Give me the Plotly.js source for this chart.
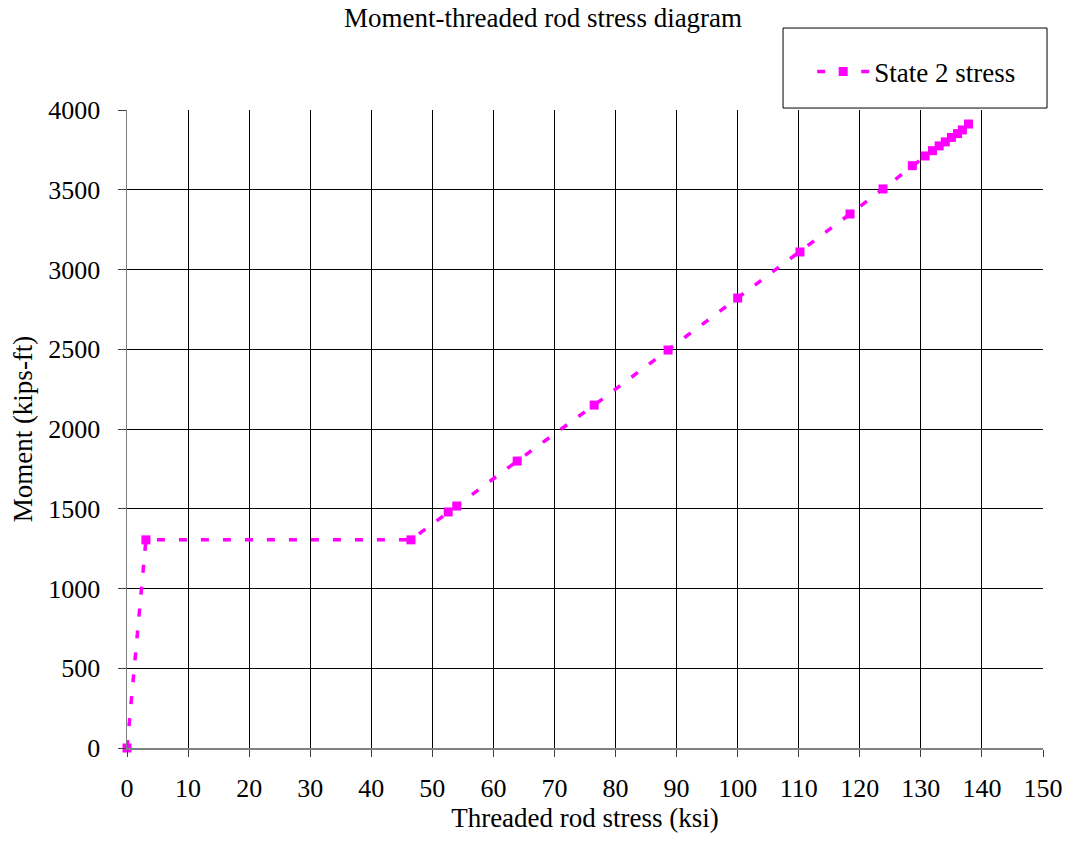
<!DOCTYPE html>
<html>
<head>
<meta charset="utf-8">
<script src="https://cdn.plot.ly/plotly-3.0.1.min.js"></script>
<style>html,body{margin:0;padding:0;background:#fff;}#chart{width:1069px;height:841px;}</style>
</head>
<body>
<div id="chart"></div>
<script>
const stress = [0, 3.1, 46.5, 52.6, 54.0, 63.9, 76.5, 88.6, 100.0, 110.2, 118.4, 123.8, 128.6, 130.7, 131.9, 133.0, 134.0, 135.0, 136.0, 136.8, 137.8];
const moment = [0, 1305, 1305, 1480, 1517, 1799, 2150, 2495, 2821, 3110, 3348, 3505, 3651, 3712, 3745, 3775, 3800, 3828, 3852, 3875, 3912];
const seriesName = "State 2 stress";
const titleText = "Moment-threaded rod stress diagram";
const xTitle = "Threaded rod stress (ksi)";
const yTitle = "Moment (kips-ft)";

const FONT = "Liberation Serif, Times New Roman, serif";

const trace = {
  x: stress, y: moment, type: "scatter", mode: "lines+markers", name: seriesName,
  line: {color: "#FF00FF", width: 3.5, dash: "8px,14px"},
  marker: {symbol: "square", size: 9, color: "#FF00FF"},
  cliponaxis: false
};

const layout = {
  width: 1069, height: 841,
  margin: {l: 127, r: 26, t: 110, b: 93},
  paper_bgcolor: "#fff", plot_bgcolor: "#fff",
  font: {family: FONT, color: "#000", size: 26},
  title: {text: titleText, font: {family: FONT, size: 27, color: "#000"},
          x: 0.508, xref: "container", xanchor: "center", y: 0.979, yref: "container", yanchor: "middle"},
  xaxis: {
    range: [0, 150], dtick: 10, tick0: 0,
    showgrid: true, gridcolor: "#000", gridwidth: 1,
    zeroline: false, showline: true, linecolor: "#808080", linewidth: 1.5,
    ticks: "outside", ticklen: 7, tickcolor: "#404040",
    ticklabelstandoff: 9,
    tickfont: {family: FONT, size: 26, color: "#000"},
    title: {text: xTitle, font: {family: FONT, size: 27, color: "#000"}, standoff: 6}
  },
  yaxis: {
    range: [0, 4000], dtick: 500, tick0: 0,
    showgrid: true, gridcolor: "#000", gridwidth: 1,
    zeroline: false, showline: true, linecolor: "#808080", linewidth: 1.5,
    ticks: "outside", ticklen: 8, tickcolor: "#404040",
    ticklabelstandoff: 12,
    tickfont: {family: FONT, size: 26, color: "#000"},
    title: {text: yTitle, font: {family: FONT, size: 27, color: "#000"}, standoff: 8}
  },
  showlegend: true,
  legend: {
    x: 0.748, xanchor: "left", y: 1.0596, yanchor: "middle",
    bgcolor: "rgba(0,0,0,0)", borderwidth: 0,
    font: {family: FONT, size: 27, color: "#000"},
    itemwidth: 52
  },
  shapes: [{
    type: "rect", xref: "paper", yref: "paper",
    x0: 0.7162, x1: 1.0044, y0: 1.0031, y1: 1.1285,
    line: {color: "#000", width: 1}, fillcolor: "rgba(0,0,0,0)", layer: "above"
  }]
};

Plotly.newPlot("chart", [trace], layout, {displayModeBar: false, staticPlot: true});
</script>
</body>
</html>
